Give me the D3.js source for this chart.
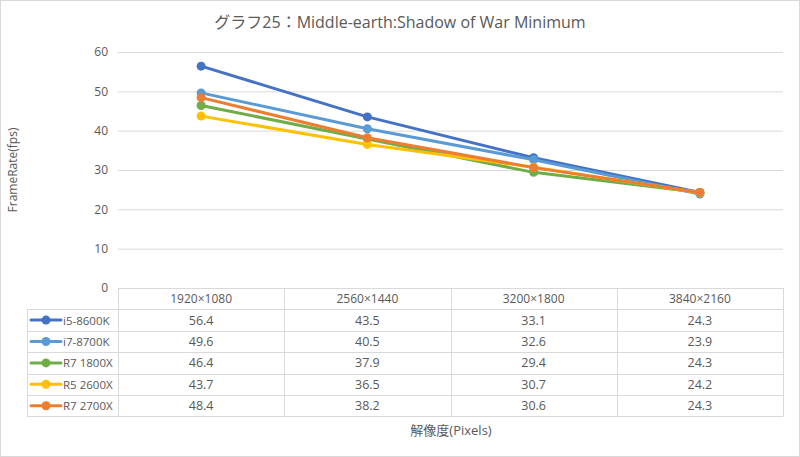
<!DOCTYPE html>
<html><head><meta charset="utf-8">
<script src="https://cdn.jsdelivr.net/npm/d3@7"></script>
<style>body{margin:0;background:#fff}svg{display:block}</style>
</head><body>
<script>
const categories = ["1920×1080","2560×1440","3200×1800","3840×2160"];
const seriesNames = ["i5-8600K","i7-8700K","R7 1800X","R5 2600X","R7 2700X"];
const i5_8600K = [56.4,43.5,33.1,24.3];
const i7_8700K = [49.6,40.5,32.6,23.9];
const r7_1800X = [46.4,37.9,29.4,24.3];
const r5_2600X = [43.7,36.5,30.7,24.2];
const r7_2700X = [48.4,38.2,30.6,24.3];
const yTicks = [0,10,20,30,40,50,60];
const colors = ["#4472C4","#5B9BD5","#70AD47","#FFC000","#ED7D31"];
const series = [i5_8600K,i7_8700K,r7_1800X,r5_2600X,r7_2700X];

(function(){
const W=800,H=457;
const font = "'Open Sans','Noto Sans CJK JP',sans-serif";
const svg = d3.select("body").append("svg").attr("width",W).attr("height",H).style("font-family",font);
svg.append("rect").attr("x",0.5).attr("y",0.5).attr("width",W-1).attr("height",H-1).attr("fill","#fff").attr("stroke","#d9d9d9");

const pLeft=118,pRight=783,pTop=52,pBottom=288;
const x = d3.scaleBand().domain(categories).range([pLeft,pRight]);
const y = d3.scaleLinear().domain([0,60]).range([pBottom,pTop]);

svg.append("text").attr("x",400).attr("y",28).attr("text-anchor","middle").attr("font-size",16).attr("fill","#595959").text("グラフ25：Middle-earth:Shadow of War Minimum");

svg.append("g").selectAll("line").data(yTicks.filter(d=>d>0)).join("line")
 .attr("x1",pLeft).attr("x2",pRight).attr("y1",d=>y(d)+0.5).attr("y2",d=>y(d)+0.5)
 .attr("stroke","#d9d9d9");
const yAxis = svg.append("g").attr("transform",`translate(${pLeft-10},0)`).call(d3.axisLeft(y).tickValues(yTicks).tickSize(0).tickPadding(0));
yAxis.select(".domain").remove();
yAxis.selectAll("text").attr("font-size",12).attr("fill","#595959").attr("font-family",font);

svg.append("text").attr("transform",`translate(17,${(pTop+pBottom)/2}) rotate(-90)`).attr("text-anchor","middle").attr("font-size",12).attr("fill","#595959").text("FrameRate(fps)");

const line = d3.line().x((d,i)=>x(categories[i])+x.bandwidth()/2).y(d=>y(d));
series.forEach((s,k)=>{
  svg.append("path").attr("d",line(s)).attr("fill","none").attr("stroke",colors[k]).attr("stroke-width",3).attr("stroke-linejoin","round").attr("stroke-linecap","round");
  svg.append("g").selectAll("circle").data(s).join("circle")
   .attr("cx",(d,i)=>x(categories[i])+x.bandwidth()/2).attr("cy",d=>y(d)).attr("r",4.5).attr("fill",colors[k]);
});

const rowH = 21.4;
const tableTop = pBottom, legLeft = 27;
const tg = svg.append("g");
const rowY = i => tableTop + rowH*(i+1);
const bc = "#d9d9d9";
tg.append("line").attr("x1",pLeft).attr("x2",pRight).attr("y1",tableTop+0.5).attr("y2",tableTop+0.5).attr("stroke",bc);
for(let i=0;i<=seriesNames.length;i++){
  tg.append("line").attr("x1",legLeft).attr("x2",pRight).attr("y1",Math.round(rowY(i))+0.5).attr("y2",Math.round(rowY(i))+0.5).attr("stroke",bc);
}
const xs = [pLeft, ...categories.map(c=>x(c)+x.bandwidth())];
xs.forEach(v=>tg.append("line").attr("x1",Math.round(v)+0.5).attr("x2",Math.round(v)+0.5).attr("y1",tableTop).attr("y2",rowY(seriesNames.length)).attr("stroke",bc));
tg.append("line").attr("x1",legLeft+0.5).attr("x2",legLeft+0.5).attr("y1",rowY(0)).attr("y2",rowY(seriesNames.length)).attr("stroke",bc);
tg.selectAll("text.h").data(categories).join("text").attr("class","h")
 .attr("x",d=>x(d)+x.bandwidth()/2).attr("y",tableTop+rowH/2+4).attr("text-anchor","middle").attr("font-size",12).attr("fill","#595959").text(d=>d);
seriesNames.forEach((n,k)=>{
  const cy = rowY(k)+rowH/2;
  tg.append("line").attr("x1",31).attr("x2",61).attr("y1",cy).attr("y2",cy).attr("stroke",colors[k]).attr("stroke-width",3).attr("stroke-linecap","round");
  tg.append("circle").attr("cx",46).attr("cy",cy).attr("r",4.5).attr("fill",colors[k]);
  tg.append("text").attr("x",63).attr("y",cy+4.5).attr("font-size",11.5).attr("fill","#595959").text(n);
  series[k].forEach((v,i)=>{
    tg.append("text").attr("x",x(categories[i])+x.bandwidth()/2).attr("y",cy+4.5).attr("text-anchor","middle").attr("font-size",12.5).attr("fill","#595959").text(v.toFixed(1));
  });
});

svg.append("text").attr("x",451).attr("y",435).attr("text-anchor","middle").attr("font-size",13).attr("fill","#595959").text("解像度(Pixels)");
})();
</script>
</body></html>
